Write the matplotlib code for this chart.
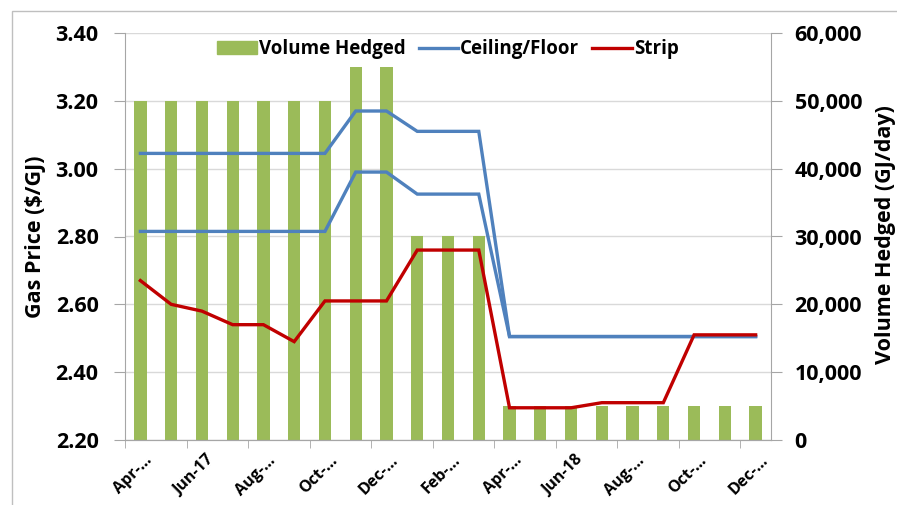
import numpy as np
import matplotlib
matplotlib.use("Agg")
from matplotlib import pyplot as plt
from matplotlib.patches import Rectangle, Patch
from matplotlib.lines import Line2D

plt.rcParams['font.family'] = ['Open Sans', 'DejaVu Sans']
plt.rcParams['font.weight'] = 'bold'

# monthly data, Apr-17 .. Dec-18
months = ['Apr-17', 'May-17', 'Jun-17', 'Jul-17', 'Aug-17', 'Sep-17', 'Oct-17',
          'Nov-17', 'Dec-17', 'Jan-18', 'Feb-18', 'Mar-18', 'Apr-18', 'May-18',
          'Jun-18', 'Jul-18', 'Aug-18', 'Sep-18', 'Oct-18', 'Nov-18', 'Dec-18']
volume = [50000, 50000, 50000, 50000, 50000, 50000, 50000, 55000, 55000,
          30000, 30000, 30000, 5000, 5000, 5000, 5000, 5000, 5000, 5000, 5000, 5000]
ceiling = [3.045, 3.045, 3.045, 3.045, 3.045, 3.045, 3.045, 3.17, 3.17,
           3.11, 3.11, 3.11, 2.505, 2.505, 2.505, 2.505, 2.505, 2.505, 2.505, 2.505, 2.505]
floor = [2.815, 2.815, 2.815, 2.815, 2.815, 2.815, 2.815, 2.99, 2.99,
         2.925, 2.925, 2.925, 2.505, 2.505, 2.505, 2.505, 2.505, 2.505, 2.505, 2.505, 2.505]
strip = [2.67, 2.60, 2.58, 2.54, 2.54, 2.49, 2.61, 2.61, 2.61,
         2.76, 2.76, 2.76, 2.295, 2.295, 2.295, 2.31, 2.31, 2.31, 2.51, 2.51, 2.51]
# excel truncates most of the rotated labels
xlabels = ['Apr-…', 'Jun-17', 'Aug-…', 'Oct-…', 'Dec-…', 'Feb-…',
           'Apr-…', 'Jun-18', 'Aug-…', 'Oct-…', 'Dec-…']
price_ticks = [2.20, 2.40, 2.60, 2.80, 3.00, 3.20, 3.40]
vol_ticks = [0, 10000, 20000, 30000, 40000, 50000, 60000]

GREEN = '#9BBB59'
BLUE = '#4F81BD'
RED = '#C00000'
AXC = '#A6A6A6'
GRID = '#D9D9D9'

W, H = 897, 505
fig = plt.figure(figsize=(W / 100, H / 100), dpi=100)

# chart border (runs off the right/bottom of the picture)
fig.patches.append(Rectangle((12 / W, -0.1), 2, 1.1 - 11 / H, transform=fig.transFigure,
                             fill=False, edgecolor='#BFBFBF', lw=1))

rect = [125 / W, (H - 440) / H, (771 - 125) / W, (440 - 33) / H]
ax = fig.add_axes(rect)
ax2 = ax.twinx()
ax2.set_zorder(ax.get_zorder() - 1)
ax.patch.set_visible(False)

x = np.arange(len(months))

# bars (right axis)
ax2.bar(x, volume, width=0.4, color=GREEN, zorder=2)
ax2.set_ylim(0, 60000)
ax2.set_yticks(vol_ticks)
ax2.set_yticklabels(['{:,}'.format(v) for v in vol_ticks], fontsize=15.5)
ax2.yaxis.grid(True, color=GRID, lw=1)
ax2.set_axisbelow(True)
ax2.tick_params(axis='y', length=8, color=AXC, pad=9)

# lines (left axis)
ax.plot(x, ceiling, color=BLUE, lw=2.4, solid_joinstyle='miter')
ax.plot(x, floor, color=BLUE, lw=2.4, solid_joinstyle='miter')
ax.plot(x, strip, color=RED, lw=2.4, solid_joinstyle='miter')
ax.set_ylim(2.20, 3.40)
ax.set_yticks(price_ticks)
ax.set_yticklabels(['{:.2f}'.format(v) for v in price_ticks], fontsize=15.5)
ax.tick_params(axis='y', length=8, color=AXC, pad=11)
ax.set_xlim(-0.5, len(months) - 0.5)

# x ticks: marks on category boundaries, labels end just past the category centre
ax.set_xticks(np.arange(-0.5, len(months), 2), minor=True)
ax.set_xticks(x[::2] + 0.32)
ax.set_xticklabels(xlabels, rotation=45, ha='right', va='center',
                   rotation_mode='anchor', fontsize=11.5)
ax.tick_params(axis='x', which='major', length=0, pad=13)
ax.tick_params(axis='x', which='minor', length=6, color=AXC)

for a in (ax, ax2):
    a.spines['top'].set_visible(False)
    for s in ('left', 'right', 'bottom'):
        a.spines[s].set_color(AXC)
ax2.spines['left'].set_visible(False)
ax.spines['right'].set_visible(False)

ax.set_ylabel('Gas Price ($/GJ)', fontsize=15.5, fontweight='bold')
ax.yaxis.set_label_coords((46 - 125) / (771 - 125), 0.5)
fig.text(0.999, 1 - 235 / H, 'Volume Hedged (GJ/day)', rotation=90,
         ha='right', va='center', fontsize=15.5, fontweight='bold')

handles = [Patch(color=GREEN), Line2D([], [], color=BLUE, lw=2.4),
           Line2D([], [], color=RED, lw=2.4)]
ax.legend(handles, ['Volume Hedged', 'Ceiling/Floor', 'Strip'], ncol=3,
          loc='center', bbox_to_anchor=(0.5, 0.96), frameon=False,
          prop={'size': 13.5, 'weight': 'bold'}, handlelength=2.1,
          handletextpad=0.12, columnspacing=0.7, handleheight=0.7)

fig.savefig('out.png', dpi=100)
